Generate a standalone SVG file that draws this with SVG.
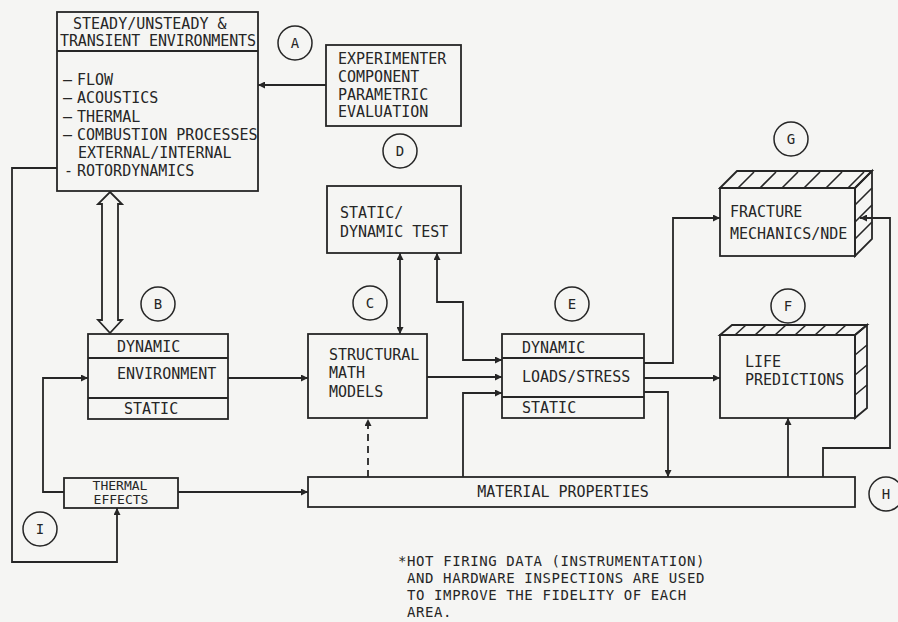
<svg xmlns="http://www.w3.org/2000/svg" width="898" height="622" viewBox="0 0 898 622">
<style>
  .bg { fill: #f5f5f3; }
  .box { fill: none; stroke: #262626; stroke-width: 1.8; }
  .ln { fill: none; stroke: #262626; stroke-width: 1.8; }
  .t { font-family: "DejaVu Sans Mono", "Liberation Mono", monospace; font-size: 15px; fill: #262626; }
  .fn { font-family: "DejaVu Sans Mono", "Liberation Mono", monospace; font-size: 14px; letter-spacing: 0.6px; fill: #262626; }
  .ts { font-family: "DejaVu Sans Mono", "Liberation Mono", monospace; font-size: 13px; fill: #262626; }
  .lbl { font-family: "DejaVu Sans Mono", "Liberation Mono", monospace; font-size: 14px; fill: #262626; text-anchor: middle; }
  .circ { fill: none; stroke: #262626; stroke-width: 1.5; }
  .hatch { fill: none; stroke: #262626; stroke-width: 1.6; }
</style>
<defs>
  <marker id="ah" viewBox="0 0 10 10" refX="10" refY="5" markerWidth="9" markerHeight="7" markerUnits="userSpaceOnUse" orient="auto-start-reverse">
    <path d="M0,0 L10,5 L0,10 Z" fill="#262626"/>
  </marker>
</defs>
<rect class="bg" x="0" y="0" width="898" height="622"/>

<g id="nodeA">
  <rect class="box" x="57" y="12" width="201" height="179"/>
  <line class="ln" x1="57" y1="51" x2="258" y2="51"/>
  <text class="t" x="73" y="29" font-size="14.5">STEADY/UNSTEADY &amp;</text>
  <text class="t" x="60" y="46" font-size="14.5" textLength="196">TRANSIENT ENVIRONMENTS</text>
  <text class="t"><tspan x="63" y="85">—</tspan><tspan x="77" y="85">FLOW</tspan></text>
  <text class="t"><tspan x="63" y="103">—</tspan><tspan x="77" y="103">ACOUSTICS</tspan></text>
  <text class="t"><tspan x="63" y="122">—</tspan><tspan x="77" y="122">THERMAL</tspan></text>
  <text class="t"><tspan x="63" y="140">—</tspan><tspan x="77" y="140">COMBUSTION PROCESSES</tspan></text>
  <text class="t" x="78" y="158">EXTERNAL/INTERNAL</text>
  <text class="t"><tspan x="64" y="176">-</tspan><tspan x="77" y="176">ROTORDYNAMICS</tspan></text>
</g>
<g id="circleA"><circle class="circ" cx="295" cy="43" r="17"/><text class="lbl" x="295" y="48">A</text></g>

<g id="nodeExperimenter">
  <rect class="box" x="326" y="45" width="135" height="81"/>
  <text class="t" x="338" y="64">EXPERIMENTER</text>
  <text class="t" x="338" y="82">COMPONENT</text>
  <text class="t" x="338" y="100">PARAMETRIC</text>
  <text class="t" x="338" y="117">EVALUATION</text>
</g>

<g id="circleD"><circle class="circ" cx="400" cy="151" r="17"/><text class="lbl" x="400" y="156">D</text></g>
<g id="nodeD">
  <rect class="box" x="327" y="186" width="134" height="67"/>
  <text class="t" x="340" y="218">STATIC/</text>
  <text class="t" x="340" y="237">DYNAMIC TEST</text>
</g>

<g id="circleG"><circle class="circ" cx="791" cy="139" r="17"/><text class="lbl" x="791" y="144">G</text></g>
<g id="nodeG">
  <rect class="box" x="720" y="188" width="135" height="68"/>
  <polygon class="box" points="720,188 737,171 872,171 855,188"/>
  <polygon class="box" points="855,188 872,171 872,239 855,256"/>
  <path class="hatch" d="M738,188 L754,172 M760,188 L776,172 M782,188 L798,172 M804,188 L820,172 M826,188 L842,172 M848,188 L864,172 M855,205 L872,188 M855,222 L872,205 M855,239 L872,222"/>
  <text class="t" x="730" y="217">FRACTURE</text>
  <text class="t" x="730" y="239">MECHANICS/NDE</text>
</g>

<g id="circleB"><circle class="circ" cx="158" cy="304" r="17"/><text class="lbl" x="158" y="309">B</text></g>
<g id="nodeB">
  <rect class="box" x="88" y="334" width="140" height="85"/>
  <line class="ln" x1="88" y1="358" x2="228" y2="358"/>
  <line class="ln" x1="88" y1="398" x2="228" y2="398"/>
  <text class="t" x="117" y="352">DYNAMIC</text>
  <text class="t" x="117" y="379">ENVIRONMENT</text>
  <text class="t" x="124" y="414">STATIC</text>
</g>

<g id="circleC"><circle class="circ" cx="370" cy="303" r="17"/><text class="lbl" x="370" y="308">C</text></g>
<g id="nodeC">
  <rect class="box" x="308" y="334" width="119" height="84"/>
  <text class="t" x="329" y="360">STRUCTURAL</text>
  <text class="t" x="329" y="378">MATH</text>
  <text class="t" x="329" y="397">MODELS</text>
</g>

<g id="circleE"><circle class="circ" cx="572" cy="304" r="17"/><text class="lbl" x="572" y="309">E</text></g>
<g id="nodeE">
  <rect class="box" x="502" y="334" width="142" height="84"/>
  <line class="ln" x1="502" y1="358" x2="644" y2="358"/>
  <line class="ln" x1="502" y1="397" x2="644" y2="397"/>
  <text class="t" x="522" y="353">DYNAMIC</text>
  <text class="t" x="522" y="382">LOADS/STRESS</text>
  <text class="t" x="522" y="413">STATIC</text>
</g>

<g id="circleF"><circle class="circ" cx="788" cy="306" r="17"/><text class="lbl" x="788" y="311">F</text></g>
<g id="nodeF">
  <rect class="box" x="720" y="335" width="135" height="83"/>
  <polygon class="box" points="720,335 732,325 867,325 855,335"/>
  <polygon class="box" points="855,335 867,325 867,408 855,418"/>
  <path class="hatch" d="M735,335 L746,325 M755,335 L766,325 M775,335 L786,325 M795,335 L806,325 M815,335 L826,325 M835,335 L846,325 M855,355 L867,345 M855,375 L867,365 M855,395 L867,385"/>
  <text class="t" x="745" y="367">LIFE</text>
  <text class="t" x="745" y="385">PREDICTIONS</text>
</g>

<g id="nodeThermal">
  <rect class="box" x="64" y="478" width="114" height="30"/>
  <text class="ts" x="120" y="490" text-anchor="middle">THERMAL</text>
  <text class="ts" x="121" y="504" text-anchor="middle">EFFECTS</text>
</g>

<g id="nodeMaterial">
  <rect class="box" x="308" y="477" width="547" height="30"/>
  <text class="t" x="563" y="497" text-anchor="middle">MATERIAL PROPERTIES</text>
</g>

<g id="circleH"><circle class="circ" cx="886" cy="494" r="17"/><text class="lbl" x="886" y="499">H</text></g>
<g id="circleI"><circle class="circ" cx="40" cy="529" r="17"/><text class="lbl" x="40" y="534">I</text></g>

<g id="connectors">
  <line class="ln" x1="326" y1="85" x2="258" y2="85" marker-end="url(#ah)"/>
  <polygon class="box" fill="#f5f5f3" points="110,192 122,204 118,204 118,320 122,320 110,333 98,320 102,320 102,204 98,204"/>
  <line class="ln" x1="400" y1="253" x2="400" y2="334" marker-start="url(#ah)" marker-end="url(#ah)"/>
  <polyline class="ln" points="437,253 437,302 463,302 463,360 502,360" marker-start="url(#ah)" marker-end="url(#ah)"/>
  <line class="ln" x1="228" y1="378" x2="308" y2="378" marker-end="url(#ah)"/>
  <line class="ln" x1="427" y1="377" x2="502" y2="377" marker-end="url(#ah)"/>
  <polyline class="ln" points="463,477 463,393 502,393" marker-end="url(#ah)"/>
  <line class="ln" x1="368" y1="477" x2="368" y2="419" stroke-dasharray="7,5" marker-end="url(#ah)"/>
  <polyline class="ln" points="644,363 673,363 673,218 720,218" marker-end="url(#ah)"/>
  <line class="ln" x1="644" y1="378" x2="720" y2="378" marker-end="url(#ah)"/>
  <polyline class="ln" points="644,392 668,392 668,477" marker-end="url(#ah)"/>
  <line class="ln" x1="788" y1="477" x2="788" y2="418" marker-end="url(#ah)"/>
  <polyline class="ln" points="823,477 823,448 890,448 890,218 860,218" marker-end="url(#ah)"/>
  <line class="ln" x1="178" y1="492" x2="308" y2="492" marker-end="url(#ah)"/>
  <polyline class="ln" points="64,492 43,492 43,378 88,378" marker-end="url(#ah)"/>
  <polyline class="ln" points="57,168 12,168 12,562 117,562 117,508" marker-end="url(#ah)"/>
</g>

<g id="footnote">
  <text class="fn" x="398" y="566">*HOT FIRING DATA (INSTRUMENTATION)</text>
  <text class="fn" x="407" y="583">AND HARDWARE INSPECTIONS ARE USED</text>
  <text class="fn" x="407" y="600">TO IMPROVE THE FIDELITY OF EACH</text>
  <text class="fn" x="407" y="617">AREA.</text>
</g>
</svg>
